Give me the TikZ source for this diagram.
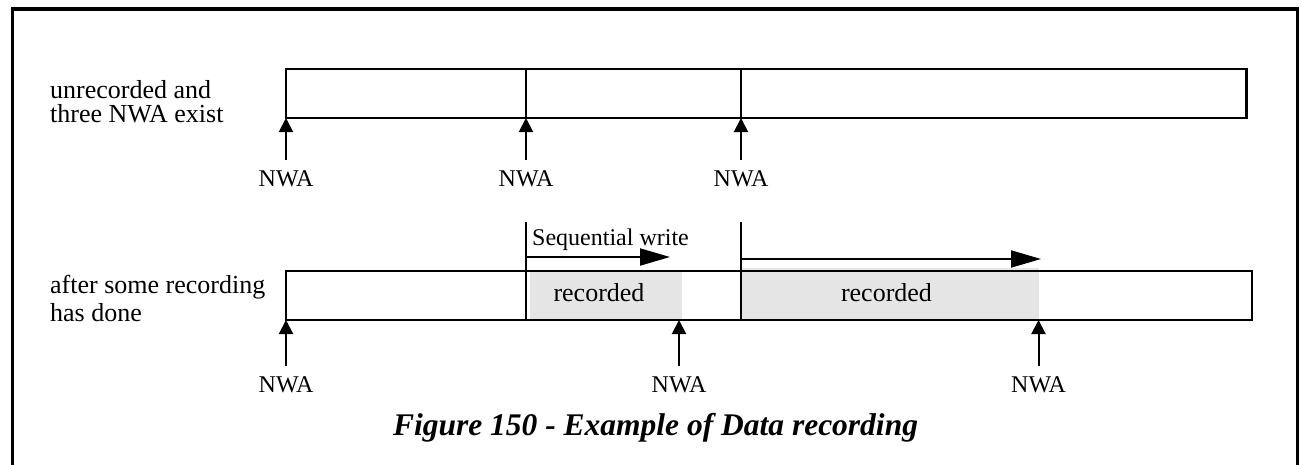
\documentclass[tikz,border=0pt]{standalone}
\usepackage{fontspec}
\setmainfont{Liberation Serif}
\usetikzlibrary{arrows.meta}

\begin{document}
\begin{tikzpicture}[x=1pt, y=-1pt,
		lbl/.style={font=\fontsize{26}{24}\selectfont, inner sep=0pt},
		nwalabel/.style={font=\fontsize{24}{24}\selectfont, anchor=base, inner xsep=2pt, inner ysep=9.5pt},
		nwaarrow/.style={line width=2pt, -{Triangle[length=14pt,width=14pt]}},
		seqarrow/.style={line width=2pt, -{Triangle[length=30pt,width=17pt]}},
		area/.style={draw, line width=2.2pt},
		recfill/.style={fill=black!10}
		]
		
		% Parameters
		\def\xstart{286}
		\def\xa{526}
		\def\xb{741}
		
		\useasboundingbox (0,0) rectangle (1301,464);
		
		% Frame, open at the bottom
		\draw[line width=3.5pt] (12.5,480) -- (12.5,9) -- (1297.5,9) -- (1297.5,480);
		
		% Upper row: nothing recorded yet
		\draw[area] (\xstart,69) rectangle (1246.5,118);
		\draw[area] (\xa,69) -- (\xa,118);
		\draw[area] (\xb,69) -- (\xb,118);
		\node[lbl, anchor=west, align=left] (state1) at (50,102.1) {unrecorded and\\three NWA exist};
		
		% NWA pointers of the upper row
		\foreach \x [count=\i] in {\xstart,\xa,\xb} {
			\coordinate (t\i) at (\x,118);
			\node[nwalabel] (n\i) at (\x,186) {NWA};
			\draw[nwaarrow] (n\i) -- (t\i);
		}
		
		% Lower row: recorded parts
		\fill[recfill] (530,271) rectangle (682,320);
		\fill[recfill] (741,268) rectangle (1039,320);
		\draw[area] (\xstart,271) rectangle (1252,320);
		\draw[area] (\xa,222) -- (\xa,320);
		\draw[area] (\xb,222) -- (\xb,320);
		\node[lbl, anchor=base] (rec1) at (599,301.5) {recorded};
		\node[lbl, anchor=base] (rec2) at (886.5,301.5) {recorded};
		\node[lbl, anchor=west, align=left, font=\fontsize{26}{28}\selectfont] (state2) at (50,298.6) {after some recording\\has done};
		
		% Sequential write arrows
		\node[lbl, anchor=base west, font=\fontsize{24}{24}\selectfont] (seq) at (532,245) {Sequential write};
		\coordinate (s1) at (\xa,257);
		\coordinate (e1) at (670,257);
		\coordinate (s2) at (\xb,259);
		\coordinate (e2) at (1041,259);
		\draw[seqarrow] (s1) -- (e1);
		\draw[seqarrow] (s2) -- (e2);
		
		% NWA pointers of the lower row
		\foreach \x [count=\i] in {\xstart,679,1038.5} {
			\coordinate (b\i) at (\x,320);
			\node[nwalabel] (m\i) at (\x,392) {NWA};
			\draw[nwaarrow] (m\i) -- (b\i);
		}
		
		% Caption
		\node[font=\fontsize{31.5}{31.5}\selectfont\bfseries\itshape, anchor=base] (caption) at (655.5,435) {Figure 150 - Example of Data recording};
		
	\end{tikzpicture}
\end{document}
